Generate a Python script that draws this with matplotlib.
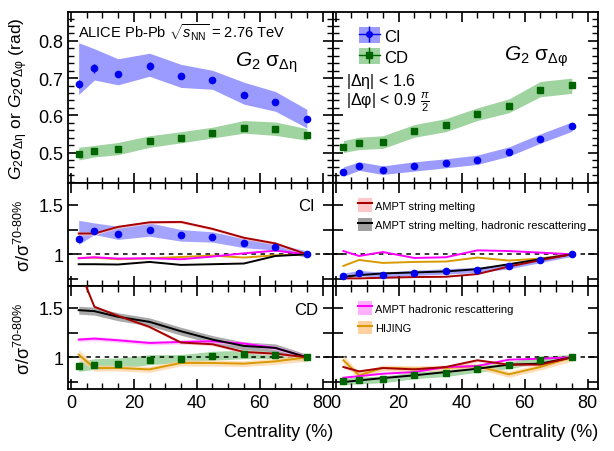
# Balance function widths vs centrality, ALICE Pb-Pb 2.76 TeV, compared with models

import matplotlib
matplotlib.use('Agg')
import matplotlib.pyplot as plt
from matplotlib.patches import Patch
from matplotlib.lines import Line2D
from matplotlib.ticker import MultipleLocator, FixedLocator

plt.rcParams['font.family'] = ['Liberation Sans', 'DejaVu Sans']
plt.rcParams['mathtext.fontset'] = 'custom'
plt.rcParams['mathtext.rm'] = 'Liberation Sans'
plt.rcParams['mathtext.it'] = 'Liberation Sans:italic'
plt.rcParams['mathtext.sf'] = 'Liberation Sans'

centrality = [2.5, 7.5, 15, 25, 35, 45, 55, 65, 75]

# top panels: G2 widths (rad)
eta_ci = [0.684, 0.727, 0.711, 0.733, 0.706, 0.694, 0.655, 0.635, 0.590]
eta_ci_stat = [0.010, 0.012, 0.008, 0.010, 0.006, 0.006, 0.005, 0.005, 0.006]
eta_ci_lo = [0.656, 0.695, 0.682, 0.705, 0.675, 0.670, 0.630, 0.611, 0.566]
eta_ci_hi = [0.795, 0.779, 0.752, 0.767, 0.737, 0.721, 0.689, 0.664, 0.616]
eta_cd = [0.497, 0.505, 0.510, 0.530, 0.540, 0.553, 0.566, 0.562, 0.547]
eta_cd_lo = [0.480, 0.488, 0.494, 0.514, 0.526, 0.539, 0.552, 0.546, 0.533]
eta_cd_hi = [0.514, 0.519, 0.527, 0.545, 0.556, 0.568, 0.586, 0.582, 0.564]

phi_ci = [0.448, 0.464, 0.452, 0.464, 0.471, 0.480, 0.502, 0.537, 0.570]
phi_ci_lo = [0.436, 0.452, 0.441, 0.450, 0.459, 0.468, 0.490, 0.525, 0.557]
phi_ci_hi = [0.461, 0.475, 0.464, 0.475, 0.483, 0.493, 0.515, 0.550, 0.582]
phi_cd = [0.515, 0.525, 0.528, 0.557, 0.573, 0.603, 0.625, 0.669, 0.682]
phi_cd_lo = [0.500, 0.508, 0.511, 0.541, 0.556, 0.586, 0.607, 0.650, 0.659]
phi_cd_hi = [0.532, 0.541, 0.545, 0.575, 0.591, 0.620, 0.644, 0.691, 0.700]

# middle panels: CI ratio to 70-80%
r_eta_ci = [1.157, 1.233, 1.207, 1.243, 1.197, 1.177, 1.110, 1.077, 1.000]
r_eta_ci_lo = [1.100, 1.200, 1.150, 1.183, 1.133, 1.123, 1.067, 1.043, 0.967]
r_eta_ci_hi = [1.343, 1.317, 1.283, 1.317, 1.250, 1.227, 1.157, 1.110, 1.033]
r_phi_ci = [0.783, 0.810, 0.793, 0.813, 0.827, 0.843, 0.880, 0.943, 1.000]
r_phi_ci_err = [0.027, 0.027, 0.027, 0.027, 0.027, 0.027, 0.027, 0.027, 0.020]

sm_eta_ci = [1.210, 1.210, 1.277, 1.323, 1.327, 1.257, 1.167, 1.110, 1.000]
smhr_eta_ci = [0.900, 0.900, 0.897, 0.923, 0.893, 0.900, 0.907, 0.983, 1.000]
hr_eta_ci = [0.960, 0.970, 0.957, 0.960, 0.950, 0.977, 1.010, 1.037, 1.000]
hij_eta_ci = [0.963, 0.967, 0.950, 0.960, 0.973, 0.987, 0.967, 0.990, 1.000]

sm_phi_ci = [0.757, 0.757, 0.763, 0.770, 0.773, 0.800, 0.877, 0.940, 1.000]
smhr_phi_ci = [0.773, 0.790, 0.807, 0.817, 0.827, 0.850, 0.900, 0.950, 1.000]
hr_phi_ci = [1.033, 0.983, 1.023, 0.963, 0.970, 1.040, 1.033, 1.017, 1.000]
hij_phi_ci = [0.883, 0.943, 0.913, 0.923, 0.927, 0.967, 0.937, 0.957, 1.000]

# bottom panels: CD ratio to 70-80%
r_eta_cd = [0.909, 0.926, 0.932, 0.970, 0.986, 1.010, 1.034, 1.027, 1.000]
r_eta_cd_lo = [0.858, 0.878, 0.885, 0.926, 0.946, 0.970, 0.986, 0.986, 0.959]
r_eta_cd_hi = [0.959, 0.986, 0.993, 1.027, 1.027, 1.061, 1.071, 1.061, 1.037]
r_phi_cd = [0.757, 0.767, 0.777, 0.818, 0.841, 0.882, 0.919, 0.976, 1.000]
r_phi_cd_err = [0.034, 0.034, 0.034, 0.034, 0.034, 0.034, 0.034, 0.034, 0.030]

sm_eta_cd = [1.900, 1.510, 1.419, 1.307, 1.149, 1.132, 1.054, 1.037, 1.000]
smhr_eta_cd = [1.476, 1.466, 1.409, 1.358, 1.263, 1.179, 1.115, 1.095, 1.000]
hr_eta_cd = [1.179, 1.189, 1.172, 1.145, 1.155, 1.162, 1.139, 1.095, 1.000]
hij_eta_cd = [1.027, 0.892, 0.892, 0.878, 0.943, 0.943, 0.936, 0.959, 1.000]

sm_phi_cd = [0.902, 0.858, 0.892, 0.878, 0.902, 0.970, 0.926, 0.926, 1.000]
smhr_phi_cd = [0.750, 0.767, 0.790, 0.818, 0.851, 0.885, 0.926, 0.936, 1.000]
hr_phi_cd = [0.794, 0.810, 0.834, 0.851, 0.902, 0.912, 0.976, 0.986, 1.000]
hij_phi_cd = [0.970, 0.818, 0.892, 0.885, 0.892, 0.912, 0.828, 0.902, 1.000]

# model band half widths
sm_err = [0.015, 0.015, 0.015, 0.015, 0.015, 0.015, 0.015, 0.015, 0.015]
smhr_err = [0.040, 0.040, 0.040, 0.040, 0.040, 0.040, 0.040, 0.040, 0.030]
hr_err = [0.020, 0.020, 0.020, 0.020, 0.020, 0.020, 0.020, 0.020, 0.020]
hij_err = [0.050, 0.030, 0.030, 0.030, 0.030, 0.030, 0.030, 0.030, 0.040]

BLUE = '#0000ee'
BLUE_BAND = '#9a9aff'
GREEN = '#006400'
GREEN_BAND = '#9fd39f'
RED = '#a50000'
RED_BAND = '#ffc8c8'
GREY_BAND = '#a0a0a0'
MAG = '#ff00ff'
MAG_BAND = '#ffb0ff'
ORANGE = '#d99a00'
ORANGE_BAND = '#ffd0a0'


def band(ax, lo, hi, color, alpha=1.0, z=1):
    ax.fill_between(centrality, lo, hi, color=color, alpha=alpha, lw=0, zorder=z)


def sym_band(ax, y, err, color, alpha=1.0, z=1):
    lo = [v - e for v, e in zip(y, err)]
    hi = [v + e for v, e in zip(y, err)]
    band(ax, lo, hi, color, alpha, z)


def style(ax):
    ax.set_xlim(-0.8, 83.3)
    ax.xaxis.set_major_locator(MultipleLocator(20))
    ax.xaxis.set_minor_locator(MultipleLocator(5))
    ax.tick_params(which='both', direction='in', top=True, right=True, labelsize=13)
    ax.tick_params(which='major', length=7, width=1.2)
    ax.tick_params(which='minor', length=4, width=1.0)
    for s in ax.spines.values():
        s.set_linewidth(1.3)


def ratio_style(ax):
    ax.set_ylim(0.68, 1.72)
    ax.yaxis.set_major_locator(FixedLocator([0.75, 1.0, 1.25, 1.5]))
    ax.yaxis.set_major_formatter(plt.FuncFormatter(
        lambda v, p: {1.0: '1', 1.5: '1.5'}.get(round(v, 2), '')))
    ax.yaxis.set_minor_locator(FixedLocator([]))
    ax.axhline(1.0, color='black', lw=1.1, ls=(0, (3, 3)), zorder=2)


def models(ax, sm, smhr, hr, hij, bands):
    if 'sm' in bands:
        sym_band(ax, sm, sm_err, RED_BAND, 0.8, 2)
    if 'smhr' in bands:
        sym_band(ax, smhr, smhr_err, GREY_BAND, 0.9, 2)
    if 'hr' in bands:
        sym_band(ax, hr, hr_err, MAG_BAND, 0.7, 2)
    if 'hij' in bands:
        sym_band(ax, hij, hij_err, ORANGE_BAND, 0.7, 2)
    ax.plot(centrality, hij, color=ORANGE, lw=1.4, zorder=4)
    ax.plot(centrality, hr, color=MAG, lw=1.4, zorder=4)
    ax.plot(centrality, smhr, color='black', lw=1.4, zorder=4)
    ax.plot(centrality, sm, color=RED, lw=1.4, zorder=4)


fig = plt.figure(figsize=(6.14, 4.52), dpi=100)
W, H = 614.0, 452.0
x0, xm, x1 = 68.3, 333.0, 598.0
yt, y1, y2, yb = 13.3, 184.0, 287.0, 390.0


def rect(xa, xb, ya, yb_):
    return [xa / W, 1 - yb_ / H, (xb - xa) / W, (yb_ - ya) / H]


ax_tl = fig.add_axes(rect(x0, xm, yt, y1))
ax_tr = fig.add_axes(rect(xm, x1, yt, y1))
ax_ml = fig.add_axes(rect(x0, xm, y1, y2))
ax_mr = fig.add_axes(rect(xm, x1, y1, y2))
ax_bl = fig.add_axes(rect(x0, xm, y2, yb))
ax_br = fig.add_axes(rect(xm, x1, y2, yb))

# top panels
for ax in (ax_tl, ax_tr):
    style(ax)
    ax.set_ylim(0.418, 0.877)
    ax.yaxis.set_major_locator(MultipleLocator(0.1))
    ax.yaxis.set_minor_locator(MultipleLocator(0.02))
    ax.tick_params(labelbottom=False)

band(ax_tl, eta_ci_lo, eta_ci_hi, BLUE_BAND)
band(ax_tl, eta_cd_lo, eta_cd_hi, GREEN_BAND)
ax_tl.errorbar(centrality, eta_ci, yerr=eta_ci_stat, fmt='o', color=BLUE, ms=4.5,
               elinewidth=1, capsize=0, zorder=5)
ax_tl.errorbar(centrality, eta_cd, yerr=0.003, fmt='s', color=GREEN, ms=4,
               elinewidth=1, capsize=0, zorder=5)
ax_tl.text(0.035, 0.95, r'ALICE Pb-Pb $\sqrt{s_{\mathrm{NN}}}$ = 2.76 TeV',
           transform=ax_tl.transAxes, fontsize=10.5, va='top', ha='left')
ax_tl.text(0.63, 0.71, r'$G_{2}\ \mathrm{\sigma}_{\mathrm{\Delta\eta}}$', transform=ax_tl.transAxes,
           fontsize=15, va='center', ha='left')
ax_tl.set_ylabel(r'$G_{2}\mathrm{\sigma}_{\mathrm{\Delta\eta}}$ or $G_{2}\mathrm{\sigma}_{\mathrm{\Delta\varphi}}$ (rad)',
                 fontsize=12.5)
ax_tl.yaxis.set_label_coords(-0.145, 0.5)

band(ax_tr, phi_ci_lo, phi_ci_hi, BLUE_BAND)
band(ax_tr, phi_cd_lo, phi_cd_hi, GREEN_BAND)
ax_tr.errorbar(centrality, phi_ci, yerr=0.003, fmt='o', color=BLUE, ms=4.5,
               elinewidth=1, capsize=0, zorder=5)
ax_tr.errorbar(centrality, phi_cd, yerr=0.003, fmt='s', color=GREEN, ms=4,
               elinewidth=1, capsize=0, zorder=5)
ax_tr.tick_params(labelleft=False)
ax_tr.text(0.645, 0.745, r'$G_{2}\ \mathrm{\sigma}_{\mathrm{\Delta\varphi}}$', transform=ax_tr.transAxes,
           fontsize=15, va='center', ha='left')
ax_tr.text(0.05, 0.60, r'$|\mathrm{\Delta\eta}|$ < 1.6', transform=ax_tr.transAxes,
           fontsize=11.5, va='center', ha='left')
ax_tr.text(0.05, 0.48, r'$|\mathrm{\Delta\varphi}|$ < 0.9 $\frac{\pi}{2}$', transform=ax_tr.transAxes,
           fontsize=11.5, va='center', ha='left')

ci_handle = (Patch(facecolor=BLUE_BAND, edgecolor='none'),
             Line2D([], [], color=BLUE, marker='o', ms=4, lw=1),
             Line2D([], [], color=BLUE, marker='|', ms=11, lw=0, mew=1))
cd_handle = (Patch(facecolor=GREEN_BAND, edgecolor='none'),
             Line2D([], [], color=GREEN, marker='s', ms=4, lw=1),
             Line2D([], [], color=GREEN, marker='|', ms=11, lw=0, mew=1))
ax_tr.legend([ci_handle, cd_handle], ['CI', 'CD'], loc='upper left',
             bbox_to_anchor=(0.04, 1.0), frameon=False, fontsize=12,
             handlelength=1.3, handleheight=1.1, handletextpad=0.25, labelspacing=0.25)

# middle panels (CI)
for ax in (ax_ml, ax_mr):
    style(ax)
    ratio_style(ax)
    ax.tick_params(labelbottom=False)
ax_mr.tick_params(labelleft=False)

band(ax_ml, r_eta_ci_lo, r_eta_ci_hi, BLUE_BAND, 0.9, 1)
models(ax_ml, sm_eta_ci, smhr_eta_ci, hr_eta_ci, hij_eta_ci, ['sm'])
ax_ml.plot(centrality, r_eta_ci, 'o', color=BLUE, ms=4.5, zorder=5)
ax_ml.text(0.9, 0.78, 'CI', transform=ax_ml.transAxes, fontsize=12, ha='center', va='center')
ax_ml.set_ylabel(r'$\mathrm{\sigma}/\mathrm{\sigma}^{\mathrm{70\text{-}80\%}}$', fontsize=13)
ax_ml.yaxis.set_label_coords(-0.13, 0.5)

sym_band(ax_mr, r_phi_ci, r_phi_ci_err, BLUE_BAND, 0.9, 1)
models(ax_mr, sm_phi_ci, smhr_phi_ci, hr_phi_ci, hij_phi_ci, [])
ax_mr.plot(centrality, r_phi_ci, 'o', color=BLUE, ms=4.5, zorder=5)

sm_handle = (Patch(facecolor=RED_BAND, edgecolor='none'), Line2D([], [], color=RED, lw=1.5))
smhr_handle = (Patch(facecolor=GREY_BAND, edgecolor='none'), Line2D([], [], color='black', lw=1.5))
ax_mr.legend([sm_handle, smhr_handle],
             ['AMPT string melting', 'AMPT string melting, hadronic rescattering'],
             loc='upper left', bbox_to_anchor=(0.055, 0.95), frameon=False, fontsize=8,
             handlelength=1.3, handleheight=1.5, handletextpad=0.3, labelspacing=0.55)

# bottom panels (CD)
for ax in (ax_bl, ax_br):
    style(ax)
    ratio_style(ax)
ax_br.tick_params(labelleft=False)

band(ax_bl, r_eta_cd_lo, r_eta_cd_hi, GREEN_BAND, 0.9, 1)
models(ax_bl, sm_eta_cd, smhr_eta_cd, hr_eta_cd, hij_eta_cd, ['sm', 'smhr', 'hr', 'hij'])
ax_bl.plot(centrality, r_eta_cd, 's', color=GREEN, ms=4, zorder=5)
ax_bl.text(0.9, 0.77, 'CD', transform=ax_bl.transAxes, fontsize=12, ha='center', va='center')
ax_bl.set_ylabel(r'$\mathrm{\sigma}/\mathrm{\sigma}^{\mathrm{70\text{-}80\%}}$', fontsize=13)
ax_bl.yaxis.set_label_coords(-0.13, 0.5)
ax_bl.set_xlabel('Centrality (%)', fontsize=13, ha='right', x=1.0, labelpad=9)

sym_band(ax_br, r_phi_cd, r_phi_cd_err, GREEN_BAND, 0.9, 1)
models(ax_br, sm_phi_cd, smhr_phi_cd, hr_phi_cd, hij_phi_cd, ['sm', 'hij'])
ax_br.plot(centrality, r_phi_cd, 's', color=GREEN, ms=4, zorder=5)
ax_br.set_xlabel('Centrality (%)', fontsize=13, ha='right', x=1.0, labelpad=9)

hr_handle = (Patch(facecolor=MAG_BAND, edgecolor='none'), Line2D([], [], color=MAG, lw=1.5))
hij_handle = (Patch(facecolor=ORANGE_BAND, edgecolor='none'), Line2D([], [], color=ORANGE, lw=1.5))
ax_br.legend([hr_handle, hij_handle], ['AMPT hadronic rescattering', 'HIJING'],
             loc='upper left', bbox_to_anchor=(0.055, 0.95), frameon=False, fontsize=8,
             handlelength=1.3, handleheight=1.5, handletextpad=0.3, labelspacing=0.55)

fig.savefig('out.png', dpi=100)
